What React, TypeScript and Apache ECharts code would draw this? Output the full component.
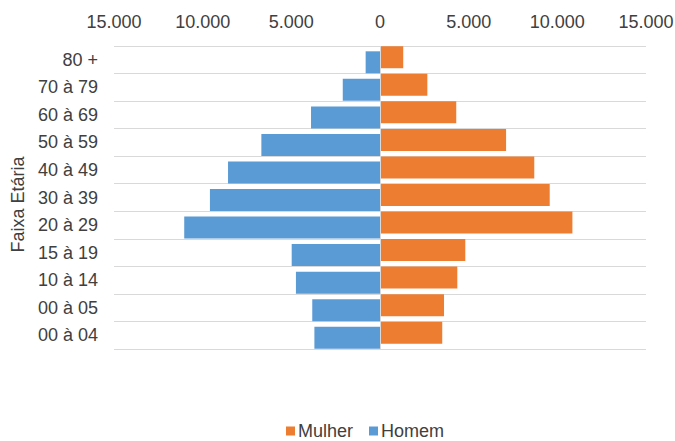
import React, { useEffect, useRef } from "react";
import * as echarts from "echarts";

const categories = ["00 à 04", "00 à 05", "10 à 14", "15 à 19", "20 à 29", "30 à 39", "40 à 49", "50 à 59", "60 à 69", "70 à 79", "80 +"];
const mulher = [3510, 3610, 4360, 4810, 10850, 9570, 8700, 7110, 4300, 2670, 1310];
const homem = [-3700, -3820, -4740, -4980, -11040, -9590, -8570, -6690, -3890, -2100, -810];
const seriesNames = ["Mulher", "Homem"];
const axisName = "Faixa Etária";

const FONT = "'Liberation Sans', Arial, sans-serif";
const FS = 18;

function fmt(v: number): string {
  const a = Math.abs(v);
  return a.toString().replace(/\B(?=(\d{3})+(?!\d))/g, ".");
}

export default function App() {
  const ref = useRef<HTMLDivElement>(null);
  useEffect(() => {
    document.body.style.margin = "0";
    if (!ref.current) return;
    const chart = echarts.init(ref.current, undefined, { renderer: "svg" });
    chart.setOption({
      animation: false,
      textStyle: { fontFamily: FONT },
      grid: { left: 114, right: 29, top: 46, bottom: 92, outerBoundsMode: "none", containLabel: false },
      legend: {
        data: seriesNames,
        left: 281,
        top: 417,
        icon: "rect",
        itemWidth: 9,
        itemHeight: 9,
        itemGap: 16,
        textStyle: { fontSize: FS, lineHeight: 18, color: "#404040", fontFamily: FONT, padding: [0, 0, 0, -2] },
      },
      xAxis: {
        type: "value",
        position: "top",
        min: -15000,
        max: 15000,
        interval: 5000,
        axisLine: { show: false },
        axisTick: { show: false },
        splitLine: { show: false },
        axisLabel: { formatter: (v: number) => fmt(v), fontSize: FS, color: "#404040", margin: 15, fontFamily: FONT },
      },
      yAxis: {
        type: "category",
        data: categories,
        name: axisName,
        nameLocation: "middle",
        nameGap: 82,
        nameTextStyle: { fontSize: FS, color: "#404040", fontFamily: FONT, padding: [0, 14, 0, 0] },
        axisLine: { show: false },
        axisTick: { show: false },
        axisLabel: { fontSize: FS, color: "#404040", margin: 16, fontFamily: FONT },
        splitLine: { show: true, lineStyle: { color: "#d9d9d9", width: 1 } },
      },
      series: [
        {
          name: seriesNames[0],
          type: "bar",
          data: mulher,
          barWidth: 22,
          barGap: "-77%",
          itemStyle: { color: "#ED7D31" },
          markLine: {
            silent: true,
            symbol: "none",
            label: { show: false },
            lineStyle: { color: "#d9d9d9", width: 1, type: "solid" },
            data: [{ xAxis: 0 }],
          },
        },
        {
          name: seriesNames[1],
          type: "bar",
          data: homem,
          barWidth: 22,
          barGap: "-77%",
          itemStyle: { color: "#5B9BD5" },
        },
      ],
    });
    return () => chart.dispose();
  }, []);
  return <div ref={ref} style={{ width: 675, height: 441 }} />;
}
